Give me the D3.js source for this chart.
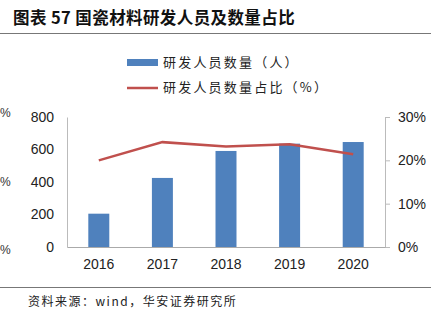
<!DOCTYPE html>
<html><head><meta charset="utf-8">
<script src="https://cdn.jsdelivr.net/npm/d3@7"></script>
<style>body{margin:0;background:#fff}svg{display:block}</style>
</head><body><svg id="c" width="444" height="326"></svg>
<script>
const categories = ["2016","2017","2018","2019","2020"];
const staffCount = [205, 425, 591, 636, 646];
const staffRatio = [20.0, 24.2, 23.2, 23.7, 21.4];
const leftTicks = [0, 200, 400, 600, 800];
const rightTicks = [0, 10, 20, 30];
const title = "图表 57 国瓷材料研发人员及数量占比";
const legendLabels = ["研发人员数量（人）", "研发人员数量占比（%）"];
const source = "资料来源：wind，华安证券研究所";

(function () {
const svg = d3.select("#c");
const cjk = "'Noto Sans CJK SC', sans-serif";
const num = "'Liberation Sans', Arial, sans-serif";
const pL = 67, pR = 385, pT = 117, pB = 247;

const x = d3.scaleBand().domain(categories).range([pL, pR]).paddingInner(0.67).paddingOuter(0.335);
const y = d3.scaleLinear().domain([0, 800]).range([pB, pT]);
const y2 = d3.scaleLinear().domain([0, 30]).range([pB, pT]);

// title
svg.append("text").attr("x", 13).attr("y", 24).attr("font-family", cjk).attr("font-weight", "bold")
  .attr("font-size", 16.5).attr("letter-spacing", 0.4).attr("fill", "#111").text(title);
svg.append("line").attr("x1", 0).attr("x2", 431).attr("y1", 33.5).attr("y2", 33.5).attr("stroke", "#777").attr("stroke-width", 1.2);

// partial labels at the left edge
[113, 182, 250].forEach(yy => svg.append("text").attr("x", 0).attr("y", yy + 4)
  .attr("font-family", num).attr("font-size", 12).attr("fill", "#333").text("%"));

// legend
svg.append("rect").attr("x", 127).attr("y", 59).attr("width", 31).attr("height", 7).attr("fill", "#4f81bd");
svg.append("line").attr("x1", 127).attr("x2", 158).attr("y1", 88).attr("y2", 88).attr("stroke", "#c0504d").attr("stroke-width", 2.5);
legendLabels.forEach((t, i) => svg.append("text").attr("x", 163).attr("y", 67 + i * 25)
  .attr("font-family", cjk).attr("font-size", 13).attr("letter-spacing", 2.2).attr("fill", "#222").text(t));

// bars
svg.append("g").selectAll("rect").data(staffCount).join("rect")
  .attr("x", (d, i) => x(categories[i])).attr("width", x.bandwidth())
  .attr("y", d => y(d)).attr("height", d => pB - y(d)).attr("fill", "#4f81bd");

// axes
const gl = svg.append("g").attr("transform", `translate(${pL},0)`)
  .call(d3.axisLeft(y).tickValues(leftTicks).tickSize(0).tickPadding(13));
gl.select(".domain").attr("stroke", "#bbb");
gl.selectAll("text").attr("font-family", num).attr("font-size", 14).attr("fill", "#222");

const gr = svg.append("g").attr("transform", `translate(${pR},0)`)
  .call(d3.axisRight(y2).tickValues(rightTicks).tickSize(5).tickPadding(8).tickFormat(d => d + "%"));
gr.select(".domain").attr("stroke", "#bbb");
gr.selectAll("line").attr("stroke", "#bbb");
gr.selectAll("text").attr("font-family", num).attr("font-size", 14).attr("fill", "#222");

const gb = svg.append("g").attr("transform", `translate(0,${pB})`)
  .call(d3.axisBottom(x).tickSize(0).tickPadding(12));
gb.select(".domain").attr("stroke", "#aaa");
gb.selectAll("text").attr("font-family", num).attr("font-size", 14).attr("fill", "#222");

// line
svg.append("path").datum(staffRatio)
  .attr("d", d3.line().x((d, i) => x(categories[i]) + x.bandwidth() / 2).y(d => y2(d)))
  .attr("fill", "none").attr("stroke", "#c0504d").attr("stroke-width", 2.5);

// footer
svg.append("line").attr("x1", 0).attr("x2", 431).attr("y1", 287.5).attr("y2", 287.5).attr("stroke", "#777").attr("stroke-width", 1.2);
svg.append("text").attr("x", 28).attr("y", 306).attr("font-family", cjk).attr("font-size", 12)
  .attr("letter-spacing", 1.5).attr("fill", "#222").text(source);
})();
</script></body></html>
